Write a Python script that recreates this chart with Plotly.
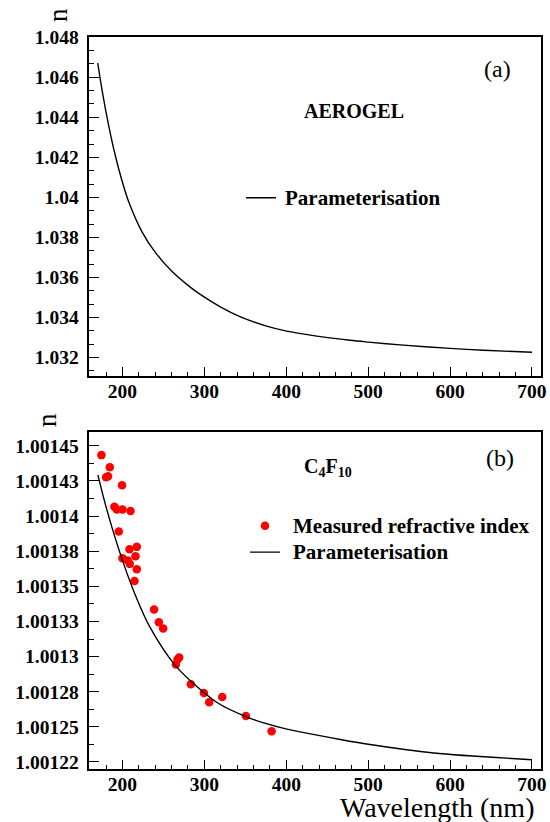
import plotly.graph_objects as go

# ---------------- data ----------------
# (a) Aerogel parameterisation
aero_wl = [169.8, 175.1, 183.3, 191.4, 199.5, 207.7, 224.0, 240.3, 260.6, 283.1,
           294.5, 318.9, 343.4, 376.0, 400.5, 437.2, 477.9, 500.2, 539.0, 600.1,
           640.8, 700.0]
aero_n = [1.046715, 1.045350, 1.043565, 1.042065, 1.040815, 1.039765, 1.038265,
          1.037240, 1.036290, 1.035500, 1.035160, 1.034540, 1.034040, 1.033565,
          1.033315, 1.033065, 1.032855, 1.032765, 1.032625, 1.032450, 1.032360,
          1.032255]

# (b) C4F10 measured refractive index
c4_meas_wl = [174.3, 184.5, 180.0, 182.4, 199.5, 190.2, 193.0, 200.0, 209.8, 195.5,
              208.6, 217.5, 200.0, 206.5, 208.9, 215.9, 217.5, 214.7,
              238.6, 244.4, 249.7, 269.2, 267.2, 265.2, 283.5, 299.4, 305.9, 321.8,
              350.7, 382.1]
c4_meas_n = [1.0014434, 1.0014348, 1.0014277, 1.0014284, 1.0014220, 1.0014066,
             1.0014047, 1.0014047, 1.0014037, 1.0013890, 1.0013764, 1.0013781,
             1.0013700, 1.0013684, 1.0013660, 1.0013714, 1.0013622, 1.0013538,
             1.0013335, 1.0013244, 1.0013200, 1.0012993, 1.0012979, 1.0012943,
             1.0012803, 1.0012741, 1.0012675, 1.0012712, 1.0012577, 1.0012468]

# (b) C4F10 parameterisation
c4_par_wl = [170, 177, 187, 200, 216, 233, 266, 315, 356, 396, 417, 466, 498, 580, 700]
c4_par_n = [1.0014293, 1.0014130, 1.0013923, 1.0013685, 1.0013433, 1.0013215,
            1.0012927, 1.0012675, 1.0012561, 1.0012491, 1.0012464, 1.0012410,
            1.0012378, 1.0012314, 1.0012266]

# tick labels
x_tickvals = [200, 300, 400, 500, 600, 700]
x_ticktext = ["200", "300", "400", "500", "600", "700"]
top_y_tickvals = [1.032, 1.034, 1.036, 1.038, 1.040, 1.042, 1.044, 1.046, 1.048]
top_y_ticktext = ["1.032", "1.034", "1.036", "1.038", "1.04", "1.042", "1.044",
                  "1.046", "1.048"]
bot_y_tickvals = [1.001225, 1.00125, 1.001275, 1.0013, 1.001325, 1.00135,
                  1.001375, 1.0014, 1.001425, 1.00145]
bot_y_ticktext = ["1.00122", "1.00125", "1.00128", "1.0013", "1.00133", "1.00135",
                  "1.00138", "1.0014", "1.00143", "1.00145"]

# ---------------- figure ----------------
W, H = 550, 822
SERIF = "Liberation Serif, serif"


def px_x(p):
    return p / W


def px_y(p):
    return 1 - p / H


def leg_name(text, pad):
    return ('<span style="font-size:16px">' + "&nbsp;" * pad + '</span>'
            '<span style="font-size:21px">' + text + '</span>')


fig = go.Figure()

fig.add_trace(go.Scatter(
    x=aero_wl, y=aero_n, mode="lines", name=leg_name("Parameterisation", 1),
    line=dict(color="black", width=1.4, shape="spline", smoothing=0.8),
    xaxis="x", yaxis="y", legend="legend"))

fig.add_trace(go.Scatter(
    x=c4_meas_wl, y=c4_meas_n, mode="markers",
    name=leg_name("Measured refractive index", 2),
    marker=dict(color="#ff0000", size=8.5, line=dict(width=0)),
    xaxis="x2", yaxis="y2", legend="legend2"))

fig.add_trace(go.Scatter(
    x=c4_par_wl, y=c4_par_n, mode="lines", name=leg_name("Parameterisation", 2),
    line=dict(color="black", width=1.4, shape="spline", smoothing=0.8),
    xaxis="x2", yaxis="y2", legend="legend2"))

xdom = [px_x(89.3), px_x(541)]
xrange_ = [159.5, 711]

common_x = dict(
    domain=xdom, range=xrange_, tickmode="array", tickvals=x_tickvals,
    ticktext=x_ticktext, ticks="inside", ticklen=9, tickwidth=1,
    tickcolor="black", showline=True, linecolor="black", linewidth=1.5,
    mirror=True, showgrid=False, zeroline=False, ticklabelstandoff=-3,
    automargin=False,
    tickfont=dict(family=SERIF, size=19.5, color="black", weight="bold"),
    minor=dict(ticks="inside", ticklen=4.5, tickmode="linear", tick0=200,
               dtick=20, tickcolor="black", tickwidth=1, showgrid=False),
)
common_y = dict(
    tickmode="array", ticks="inside", ticklen=10, tickwidth=1,
    tickcolor="black", showline=True, linecolor="black", linewidth=1.5,
    mirror=True, showgrid=False, zeroline=False, ticklabelstandoff=5,
    automargin=False,
    tickfont=dict(family=SERIF, size=19.5, color="black", weight="bold"),
)

fig.update_layout(
    width=W, height=H, autosize=False,
    margin=dict(l=0, r=0, t=0, b=0, pad=0, autoexpand=False),
    paper_bgcolor="white", plot_bgcolor="white",
    xaxis=dict(anchor="y", **common_x),
    yaxis=dict(domain=[px_y(376), px_y(37.3)], range=[1.03107, 1.048],
               tickvals=top_y_tickvals, ticktext=top_y_ticktext, anchor="x",
               minor=dict(ticks="inside", ticklen=5, tickmode="linear",
                          tick0=1.032, dtick=0.002 / 3, tickcolor="black",
                          tickwidth=1, showgrid=False),
               **common_y),
    xaxis2=dict(anchor="y2", **common_x),
    yaxis2=dict(domain=[px_y(769), px_y(431.8)], range=[1.00122, 1.00146],
                tickvals=bot_y_tickvals, ticktext=bot_y_ticktext, anchor="x2",
                minor=dict(ticks="inside", ticklen=5, tickmode="linear",
                           tick0=1.001225, dtick=0.0000125, tickcolor="black",
                           tickwidth=1, showgrid=False),
                **common_y),
    legend=dict(x=px_x(241), y=px_y(198), xanchor="left", yanchor="middle",
                bgcolor="rgba(0,0,0,0)", borderwidth=0,
                font=dict(family=SERIF, size=18, color="black", weight="bold")),
    legend2=dict(x=px_x(245), y=px_y(539), xanchor="left", yanchor="middle",
                 bgcolor="rgba(0,0,0,0)", borderwidth=0, traceorder="normal",
                 font=dict(family=SERIF, size=18, color="black", weight="bold")),
    showlegend=True,
)

ann_font = dict(family=SERIF, color="black")
annotations = [
    dict(text="n", x=px_x(58), y=px_y(15), textangle=-90,
         font=dict(size=27, **ann_font)),
    dict(text="n", x=px_x(47), y=px_y(420), textangle=-90,
         font=dict(size=27, **ann_font)),
    dict(text="Wavelength (nm)", x=px_x(536), y=px_y(807), xanchor="right",
         font=dict(size=28, **ann_font)),
    dict(text="(a)", x=px_x(497), y=px_y(69), font=dict(size=24, **ann_font)),
    dict(text="AEROGEL", x=px_x(354), y=px_y(111),
         font=dict(size=20, weight="bold", **ann_font)),
    dict(text="(b)", x=px_x(500), y=px_y(458), font=dict(size=24, **ann_font)),
    dict(text="C<sub>4</sub>F<sub>10</sub>", x=px_x(302), y=px_y(467),
         xanchor="left", font=dict(size=20, weight="bold", **ann_font)),
]
for a in annotations:
    a.setdefault("xanchor", "center")
    a.setdefault("yanchor", "middle")
    a.update(xref="paper", yref="paper", showarrow=False)
fig.update_layout(annotations=annotations)

fig.write_html("out.html")
